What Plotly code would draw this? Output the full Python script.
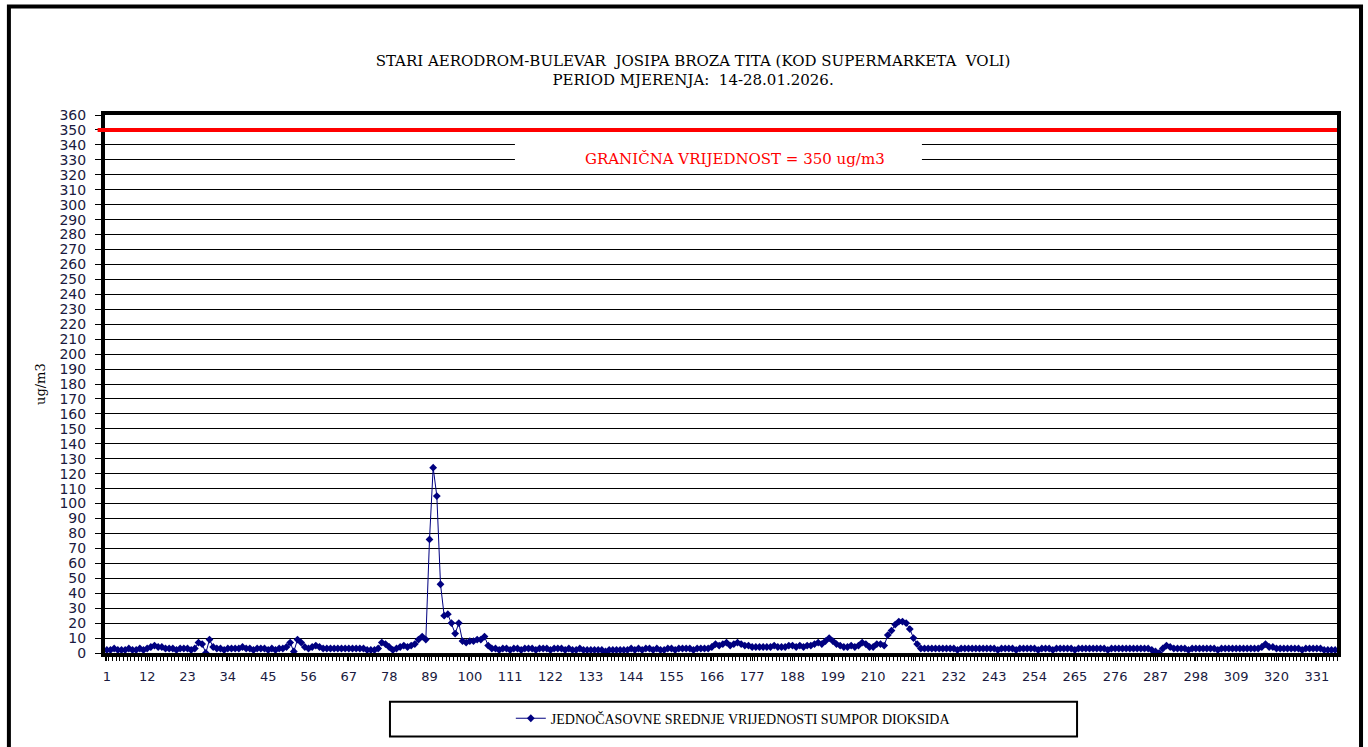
import plotly.graph_objects as go

# jednocasovne srednje vrijednosti SO2 (ug/m3), 14 dana x 24 sata
day01 = [2, 2, 3, 2, 2, 2, 3, 2, 2, 3, 2, 3, 4, 5, 4, 4, 3, 3, 3, 2, 3, 3, 3, 2]
day02 = [3, 7, 6, 0, 9, 4, 3, 3, 2, 3, 3, 3, 3, 4, 3, 3, 2, 3, 3, 3, 2, 3, 2, 3]
day03 = [3, 4, 7, 1, 9, 7, 4, 3, 4, 5, 4, 3, 3, 3, 3, 3, 3, 3, 3, 3, 3, 3, 3, 2]
day04 = [2, 2, 3, 7, 6, 4, 2, 3, 4, 5, 4, 5, 6, 9, 11, 9, 76, 124, 105, 46, 25, 26, 20, 13]
day05 = [20, 8, 7, 8, 8, 9, 9, 11, 5, 3, 3, 2, 3, 3, 2, 3, 3, 2, 3, 3, 3, 2, 3, 3]
day06 = [3, 2, 3, 3, 3, 2, 3, 2, 2, 3, 2, 2, 2, 2, 2, 2, 1, 2, 2, 2, 2, 2, 2, 3]
day07 = [2, 3, 2, 3, 3, 2, 3, 2, 2, 3, 3, 2, 3, 3, 3, 3, 2, 3, 3, 3, 3, 4, 6, 5]
day08 = [6, 7, 5, 6, 7, 6, 5, 5, 4, 4, 4, 4, 4, 4, 5, 4, 4, 4, 5, 5, 4, 5, 4, 5]
day09 = [5, 6, 7, 6, 8, 10, 8, 6, 5, 4, 4, 5, 4, 5, 7, 6, 4, 4, 6, 6, 5, 12, 15, 19]
day10 = [21, 21, 20, 16, 10, 6, 3, 3, 3, 3, 3, 3, 3, 3, 3, 3, 2, 3, 3, 3, 3, 3, 3, 3]
day11 = [3, 3, 3, 2, 3, 3, 3, 3, 2, 3, 3, 3, 3, 3, 2, 3, 3, 3, 2, 3, 3, 3, 3, 3]
day12 = [2, 3, 3, 3, 3, 3, 3, 3, 3, 2, 3, 3, 3, 3, 3, 3, 3, 3, 3, 3, 3, 2, 1, 0]
day13 = [3, 5, 4, 3, 3, 3, 3, 2, 3, 3, 3, 3, 3, 3, 3, 2, 3, 3, 3, 3, 3, 3, 3, 3]
day14 = [3, 3, 3, 4, 6, 4, 4, 3, 3, 3, 3, 3, 3, 3, 2, 3, 3, 3, 3, 3, 2, 2, 2, 2]

so2 = (day01 + day02 + day03 + day04 + day05 + day06 + day07
       + day08 + day09 + day10 + day11 + day12 + day13 + day14)
sati = list(range(1, len(so2) + 1))

x_ticks = [1, 12, 23, 34, 45, 56, 67, 78, 89, 100, 111, 122, 133, 144, 155, 166,
           177, 188, 199, 210, 221, 232, 243, 254, 265, 276, 287, 298, 309, 320, 331]
y_ticks = list(range(0, 361, 10))
granica = 350

naslov = ("STARI AERODROM-BULEVAR&nbsp; JOSIPA BROZA TITA (KOD SUPERMARKETA&nbsp; VOLI)"
          "<br>PERIOD MJERENJA:&nbsp; 14-28.01.2026.")
serie_ime = "JEDNOČASOVNE SREDNJE VRIJEDNOSTI SUMPOR DIOKSIDA"

fig = go.Figure()
fig.add_trace(go.Scatter(
    x=sati, y=so2, name=serie_ime, mode="lines+markers",
    line=dict(color="#000080", width=1),
    marker=dict(symbol="diamond", size=6, color="#000080"),
))

# okvir oko cijele slike
fig.add_shape(type="rect", xref="paper", yref="paper",
              x0=-0.078, x1=1.0195, y0=-0.25, y1=1.2015,
              line=dict(color="black", width=4), layer="below")
# granicna vrijednost
fig.add_shape(type="line", xref="paper", yref="y", x0=-0.006, x1=1,
              y0=granica, y1=granica, line=dict(color="red", width=4), layer="above")
fig.add_shape(type="rect", xref="x", yref="y", x0=112.3, x1=223.3, y0=324, y1=346,
              fillcolor="white", line=dict(width=0), layer="above")
fig.add_annotation(x=172.3, y=330.5, xref="x", yref="y", showarrow=False,
                   text="GRANIČNA VRIJEDNOST = 350 ug/m3",
                   font=dict(family="DejaVu Serif", size=15, color="red"))
# legenda okvir
fig.add_shape(type="rect", xref="paper", yref="paper",
              x0=0.2313, x1=0.789, y0=-0.1553, y1=-0.0906,
              line=dict(color="black", width=2), layer="above")
# naziv y ose
fig.add_annotation(x=-0.0605, y=0.5, xref="paper", yref="paper", showarrow=False,
                   text="ug/m3", textangle=-90,
                   font=dict(family="DejaVu Serif", size=13, color="black"))

fig.update_layout(
    width=1368, height=747,
    margin=dict(l=105, r=31, t=115, b=91),
    paper_bgcolor="white", plot_bgcolor="white",
    title=dict(text=naslov, xref="container", yref="container", x=0.5066, y=0.912,
               xanchor="center", yanchor="middle",
               font=dict(family="DejaVu Serif", size=15, color="black")),
    showlegend=True,
    legend=dict(orientation="h", x=0.51, y=-0.122, xanchor="center", yanchor="middle",
                bgcolor="rgba(0,0,0,0)", borderwidth=0,
                font=dict(family="Liberation Serif", size=14, color="black")),
)
fig.update_xaxes(
    range=[0.5, len(so2) + 0.5], tickvals=x_ticks, ticktext=[str(t) for t in x_ticks],
    showgrid=False, zeroline=False,
    showline=True, linecolor="black", linewidth=4, mirror=True,
    ticks="outside", ticklen=4, tickcolor="black", tickwidth=1, ticklabelstandoff=4,
    minor=dict(dtick=1, tick0=0.5, ticks="outside", ticklen=4, tickcolor="black", tickwidth=1),
    tickfont=dict(family="DejaVu Sans", size=13, color="#1a1a40"),
)
fig.update_yaxes(
    range=[0, 360], tickvals=y_ticks,
    showgrid=True, gridcolor="black", gridwidth=1, zeroline=False,
    showline=True, linecolor="black", linewidth=4, mirror=True,
    ticks="outside", ticklen=6, tickcolor="black", tickwidth=1, ticklabelstandoff=6,
    tickfont=dict(family="DejaVu Sans", size=14, color="#1a1a40"),
)

# bez margine tijela stranice, da slika krene od gornjeg lijevog ugla
fig.write_html("out.html", config={"displayModeBar": False},
               post_script="document.body.style.margin='0px';")
